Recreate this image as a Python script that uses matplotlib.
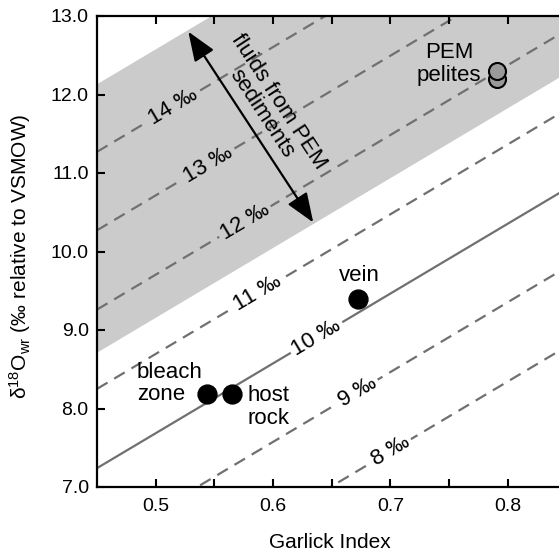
import numpy as np
import matplotlib
matplotlib.use("Agg")
import matplotlib.pyplot as plt

plt.rcParams['font.family'] = ['Liberation Sans', 'DejaVu Sans']
plt.rcParams['mathtext.fontset'] = 'custom'
plt.rcParams['mathtext.rm'] = 'Liberation Sans'
plt.rcParams['mathtext.it'] = 'Liberation Sans:italic'

# ---- data ----
fluid_labels = ['8 ‰', '9 ‰', '10 ‰', '11 ‰', '12 ‰', '13 ‰', '14 ‰']
line_y_at_045 = [5.23, 6.24, 7.24, 8.25, 9.26, 10.27, 11.27]   # whole-rock d18O at GI = 0.45
line_slope = 8.9
label_gi = [0.700, 0.6717, 0.637, 0.587, 0.576, 0.5446, 0.5147]
band_y_at_045 = [8.72, 12.14]

sample_gi = [0.5434, 0.5653, 0.6726]
sample_d18o = [8.19, 8.19, 9.39]
pelite_gi = [0.791, 0.791]
pelite_d18o = [12.20, 12.30]

xlim = (0.45, 0.85)
ylim = (7.0, 13.0)
xticks_major = [0.5, 0.6, 0.7, 0.8]
xticks_minor = [0.55, 0.65, 0.75]
yticks = [7.0, 8.0, 9.0, 10.0, 11.0, 12.0, 13.0]

W, H = 559, 553
fig = plt.figure(figsize=(W / 100, H / 100), dpi=100)
ax = fig.add_axes([97 / W, (H - 487) / H, 469.6 / W, 471 / H])
ax.set_xlim(*xlim)
ax.set_ylim(*ylim)

xs = np.array(xlim)
gray_band = '#cbcbcb'
line_col = '#707070'

# band
ax.fill_between(xs, band_y_at_045[0] + line_slope * (xs - 0.45),
                band_y_at_045[1] + line_slope * (xs - 0.45),
                color=gray_band, lw=0, zorder=0)

# pixel angle of lines
p0 = ax.transData.transform((0.45, 7.0))
p1 = ax.transData.transform((0.55, 7.0 + line_slope * 0.1))
ang = np.degrees(np.arctan2(p1[1] - p0[1], p1[0] - p0[0]))

for lab, c, lx in zip(fluid_labels, line_y_at_045, label_gi):
    ys = c + line_slope * (xs - 0.45)
    if lab == '10 ‰':
        ax.plot(xs, ys, color=line_col, lw=1.6, zorder=1)
    else:
        ax.plot(xs, ys, color=line_col, lw=1.6, linestyle=(0, (5.5, 3.5)), zorder=1)
    ly = c + line_slope * (lx - 0.45)
    in_band = (band_y_at_045[0] + line_slope * (lx - 0.45)) < ly
    fc = gray_band if in_band else 'white'
    ax.text(lx, ly, lab, rotation=ang, rotation_mode='anchor', ha='center', va='center',
            fontsize=16, zorder=2,
            bbox=dict(boxstyle='square,pad=0.15', fc=fc, ec='none'))

# points
ax.scatter(sample_gi, sample_d18o, s=185, color='black', zorder=4)
ax.scatter(pelite_gi, pelite_d18o, s=150, facecolor='#9a9a9a', edgecolor='black',
           linewidth=1.5, zorder=4)

# annotations
ax.text(0.484, 8.32, 'bleach\nzone', ha='left', va='center', fontsize=16, linespacing=1.1, zorder=3)
ax.text(0.5778, 8.02, 'host\nrock', ha='left', va='center', fontsize=16, linespacing=1.1, zorder=3)
ax.text(0.6735, 9.70, 'vein', ha='center', va='center', fontsize=16, zorder=3)
ax.text(0.7498, 12.39, 'PEM\npelites', ha='center', va='center', fontsize=16,
        linespacing=1.1, multialignment='center', zorder=3)

# arrow
ax.annotate('', xy=(0.5278, 12.80), xytext=(0.6342, 10.37),
            arrowprops=dict(arrowstyle='<|-|>,head_length=0.9,head_width=0.35',
                            mutation_scale=20, color='black', lw=1.6,
                            shrinkA=0, shrinkB=0), zorder=5)
q0 = ax.transData.transform((0.5278, 12.80))
q1 = ax.transData.transform((0.6342, 10.37))
aang = np.degrees(np.arctan2(q1[1] - q0[1], q1[0] - q0[0]))
ax.text(0.5974, 11.83, 'fluids from PEM\nsediments', rotation=aang, rotation_mode='anchor',
        ha='center', va='center', fontsize=16, linespacing=1.0, multialignment='center', zorder=3)

# axes styling
ax.set_xticks(xticks_major)
ax.set_xticks(xticks_minor, minor=True)
ax.set_xticklabels([f'{v:.1f}' for v in xticks_major])
ax.set_yticks(yticks)
ax.set_yticklabels([f'{v:.1f}' for v in yticks])
ax.tick_params(which='both', direction='in', top=True, right=True, length=6, width=1.5,
               labelsize=14)
ax.tick_params(axis='x', pad=8)
ax.tick_params(axis='y', pad=6)
for s in ax.spines.values():
    s.set_linewidth(1.6)

ax.set_xlabel('Garlick Index', fontsize=15)
ax.xaxis.set_label_coords(0.495, -0.098)
ax.set_ylabel(r'$\mathregular{\delta^{18}O_{wr}}$ (‰ relative to VSMOW)', fontsize=15)
ax.yaxis.set_label_coords(-0.136, 0.49)

fig.savefig('out.png', dpi=100)
